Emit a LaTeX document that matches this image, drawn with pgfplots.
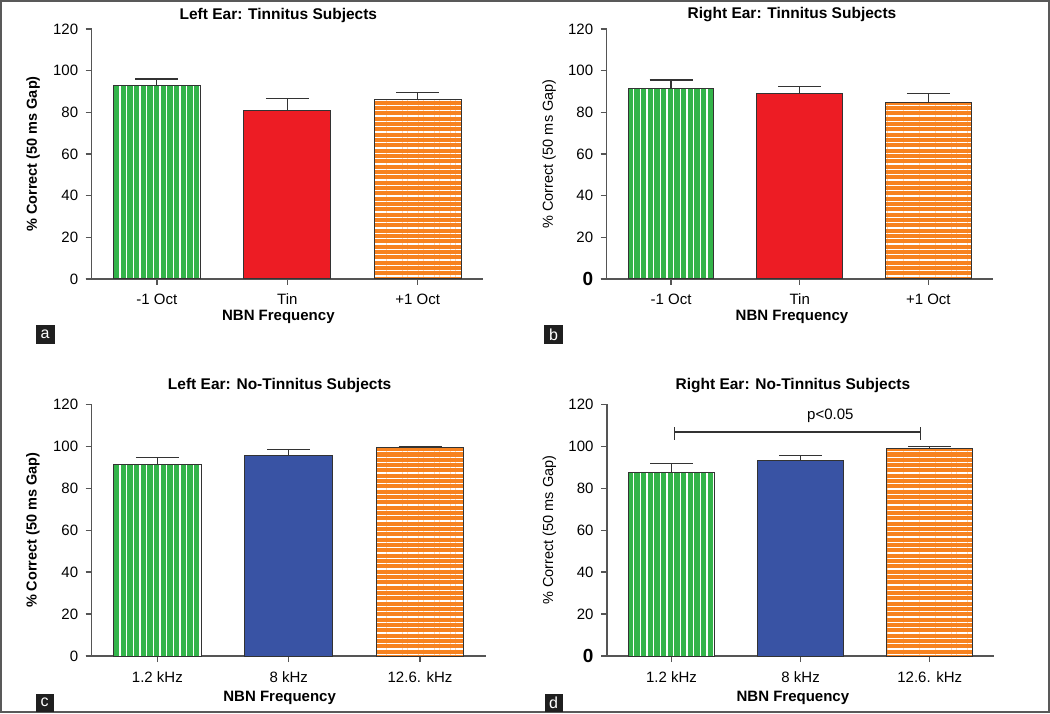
\documentclass[border=0pt]{standalone}
\usepackage{pgfplots}
\pgfplotsset{compat=1.18}
\usetikzlibrary{patterns.meta}
\usepackage{fontspec}
\setmainfont{Liberation Sans}

\definecolor{barGreen}{HTML}{33B44A}
\definecolor{barRed}{HTML}{ED1C24}
\definecolor{barOrange}{HTML}{F7821F}
\definecolor{barBlue}{HTML}{3953A4}
\definecolor{axisGray}{HTML}{555555}
\definecolor{edgeGray}{HTML}{333333}

\tikzset{
 ttl/.style={font=\bfseries\fontsize{15.5}{18}\selectfont, anchor=center, yshift=-6pt},
 xlab/.style={font=\bfseries\fontsize{15}{17}\selectfont, anchor=center},
}

\pgfplotsset{
 panel/.style={
  scale only axis, axis lines=left,
  axis line style={-, axisGray, line width=1.3pt},
  x axis line style={shorten <=-6pt},
  xmin=-0.5, xmax=2.5, ymin=0, ymax=120, ytick={0,20,...,120}, xtick={0,1,2},
  tick align=outside, major tick length=6pt,
  tick style={axisGray, line width=1.3pt},
  /pgf/number format/assume math mode=true,
  tick label style={font=\fontsize{15}{17}\selectfont},
  xticklabel style={yshift=-5pt},
  yticklabel style={xshift=-4pt},
  clip=false,
 },
 errs/.style={error bars/y dir=plus, error bars/y explicit,
   error bars/error bar style={line width=1.1pt, edgeGray},
   error bars/error mark options={rotate=90, line width=1.1pt, edgeGray, mark size=21.5pt}},
 basebar/.style={ybar, bar width=0.667, bar shift=0pt, draw=edgeGray, line width=1pt, errs},
 greenbar/.style={basebar, fill=barGreen,
   postaction={pattern={Lines[angle=90,distance=6.67pt,line width=1.3pt]}, pattern color=white, draw=edgeGray, line width=1pt}},
 orangebar/.style={basebar, fill=barOrange,
   postaction={pattern={Lines[angle=0,distance=5.33pt,line width=1.3pt]}, pattern color=white, draw=edgeGray, line width=1pt}},
 redbar/.style={basebar, fill=barRed},
 bluebar/.style={basebar, fill=barBlue},
}

\begin{document}
\begin{tikzpicture}
\useasboundingbox (0,0) rectangle (1050pt,713pt);
\draw[black!65, line width=1.5pt] (1pt,1pt) rectangle (1049pt,712pt);

% ---------------- a
\begin{axis}[panel, at={(91.7pt,434pt)}, anchor=south west, width=391.3pt, height=250pt,
  xticklabels={-1 Oct, Tin, +1 Oct},
  title={Left Ear: Tinnitus Subjects},
  title style={ttl, at={(axis description cs:0.477,1.056)}},
  xlabel={NBN Frequency},
  xlabel style={xlab, at={(axis description cs:0.477,-0.153)}},
  ylabel={\% Correct (50 ms Gap)},
  ylabel style={at={(axis description cs:-0.15,0.5)}, anchor=center, font=\bfseries\fontsize{14.5}{17}\selectfont},
]
\addplot[greenbar] coordinates {(0,93.0) +- (0,3.0)};
\addplot[redbar] coordinates {(1,80.8) +- (0,6.0)};
\addplot[orangebar] coordinates {(2,86.1) +- (0,3.5)};
\end{axis}

% ---------------- b
\begin{axis}[panel, at={(606.7pt,434pt)}, anchor=south west, width=386pt, height=250pt,
  xticklabels={-1 Oct, Tin, +1 Oct},
  yticklabels={{\bfseries\fontsize{19}{20}\selectfont 0},20,40,60,80,100,120},
  title={Right Ear: Tinnitus Subjects},
  title style={ttl, at={(axis description cs:0.48,1.056)}},
  xlabel={NBN Frequency},
  xlabel style={xlab, at={(axis description cs:0.48,-0.153)}},
  ylabel={\% Correct (50 ms Gap)},
  ylabel style={at={(axis description cs:-0.149,0.5)}, anchor=center, font=\fontsize{14.5}{17}\selectfont},
]
\addplot[greenbar] coordinates {(0,91.5) +- (0,4.0)};
\addplot[redbar] coordinates {(1,88.8) +- (0,3.4)};
\addplot[orangebar] coordinates {(2,84.9) +- (0,4.2)};
\end{axis}

% ---------------- c
\begin{axis}[panel, at={(91.7pt,57pt)}, anchor=south west, width=394pt, height=251.7pt,
  xticklabels={1.2 kHz, 8 kHz, 12.6. kHz},
  xticklabel style={yshift=-1pt},
  title={Left Ear: No-Tinnitus Subjects},
  title style={ttl, at={(axis description cs:0.477,1.073)}},
  xlabel={NBN Frequency},
  xlabel style={xlab, at={(axis description cs:0.477,-0.166)}},
  ylabel={\% Correct (50 ms Gap)},
  ylabel style={at={(axis description cs:-0.149,0.5)}, anchor=center, font=\bfseries\fontsize{14.5}{17}\selectfont},
]
\addplot[greenbar] coordinates {(0,91.4) +- (0,3.2)};
\addplot[bluebar] coordinates {(1,95.5) +- (0,3.1)};
\addplot[orangebar] coordinates {(2,99.5) +- (0,0.5)};
\end{axis}

% ---------------- d
\begin{axis}[panel, at={(607pt,57pt)}, anchor=south west, width=387.3pt, height=251.7pt,
  xticklabels={1.2 kHz, 8 kHz, 12.6. kHz},
  xticklabel style={yshift=-1pt},
  yticklabels={{\bfseries\fontsize{19}{20}\selectfont 0},20,40,60,80,100,120},
  title={Right Ear: No-Tinnitus Subjects},
  title style={ttl, at={(axis description cs:0.48,1.073)}},
  xlabel={NBN Frequency},
  xlabel style={xlab, at={(axis description cs:0.48,-0.166)}},
  ylabel={\% Correct (50 ms Gap)},
  ylabel style={at={(axis description cs:-0.149,0.5)}, anchor=center, font=\fontsize{14.5}{17}\selectfont},
]
\addplot[greenbar] coordinates {(0,87.4) +- (0,4.3)};
\addplot[bluebar] coordinates {(1,93.0) +- (0,2.7)};
\addplot[orangebar] coordinates {(2,98.9) +- (0,0.9)};
\addplot[sharp plot, mark=none, draw=edgeGray, line width=1.1pt] coordinates {(0.02,106.8) (1.93,106.8)};
\addplot[sharp plot, mark=none, draw=edgeGray, line width=1.1pt] coordinates {(0.02,103.0) (0.02,109.3)};
\addplot[sharp plot, mark=none, draw=edgeGray, line width=1.1pt] coordinates {(1.93,103.0) (1.93,109.3)};
\node[font=\fontsize{15}{18}\selectfont] at (axis cs:1.23,114.7) {p<0.05};
\end{axis}

% panel letters
\node[fill=black!88, text=white, minimum size=19pt, inner sep=0pt, font=\fontsize{16}{16}\selectfont] at (45pt,378.5pt) {a};
\node[fill=black!88, text=white, minimum size=19pt, inner sep=0pt, font=\fontsize{16}{16}\selectfont] at (553.5pt,378.5pt) {b};
\node[fill=black!88, text=white, minimum size=18pt, inner sep=0pt, font=\fontsize{16}{16}\selectfont] at (44.5pt,10.5pt) {c};
\node[fill=black!88, text=white, minimum size=18pt, inner sep=0pt, font=\fontsize{16}{16}\selectfont] at (553.5pt,10.5pt) {d};
\end{tikzpicture}
\end{document}
